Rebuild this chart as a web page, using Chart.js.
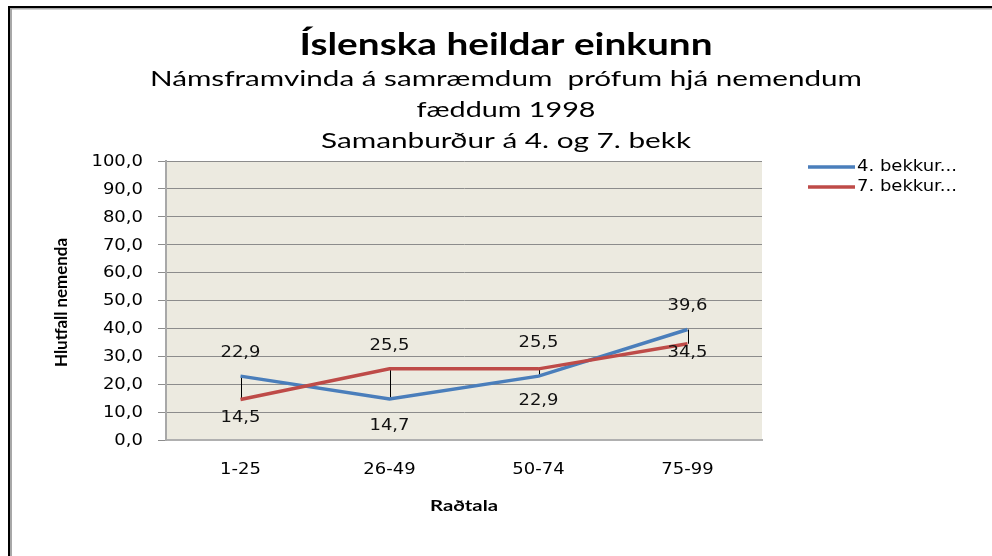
<!DOCTYPE html>
<html><head><meta charset="utf-8">
<script src="https://cdn.jsdelivr.net/npm/chart.js@4"></script>
<style>html,body{margin:0;padding:0;background:#fff;overflow:hidden}canvas{display:block}</style>
</head><body>
<canvas id="c" width="992" height="556"></canvas>
<script>
const categories = ['1-25', '26-49', '50-74', '75-99'];
const grade4 = [22.9, 14.7, 22.9, 39.6];
const grade7 = [14.5, 25.5, 25.5, 34.5];
const seriesNames = ['4. bekkur...', '7. bekkur...'];
const titleText = 'Íslenska heildar einkunn';
const subtitleLines = ['Námsframvinda á samræmdum  prófum hjá nemendum', 'fæddum 1998', 'Samanburður á 4. og 7. bekk'];
const xAxisTitle = 'Raðtala';
const yAxisTitle = 'Hlutfall nemenda';

const fmt = v => v.toFixed(1).replace('.', ',');
const VFONT = '15px "DejaVu Sans"';
const SX = 1.2;

function txt(ctx, s, x, y, o) {
  ctx.save();
  ctx.font = o.font;
  ctx.fillStyle = o.color || '#000';
  ctx.textAlign = o.align || 'center';
  ctx.textBaseline = o.baseline || 'middle';
  ctx.translate(x, y);
  if (o.rot) ctx.rotate(o.rot);
  let sx = o.sx || 1;
  if (o.width) sx = o.width / ctx.measureText(s).width;
  ctx.scale(sx, o.sy || 1);
  ctx.fillText(s, 0, 0);
  ctx.restore();
}

const deco = {
  id: 'deco',
  beforeDraw(chart) {
    const { ctx, chartArea: a } = chart;
    ctx.save();
    ctx.fillStyle = '#fff';
    ctx.fillRect(0, 0, chart.width, chart.height);
    ctx.fillStyle = '#ECEAE0';
    ctx.fillRect(a.left, a.top, a.right - a.left, a.bottom - a.top);
    ctx.fillStyle = '#A8A8A8';
    ctx.fillRect(10, 8, 2, chart.height);
    ctx.fillRect(10, 8, chart.width, 1.5);
    ctx.fillStyle = '#000';
    ctx.fillRect(8, 6, chart.width, 2);
    ctx.fillRect(8, 6, 2, chart.height);
    ctx.restore();
  },
  beforeDatasetsDraw(chart) {
    const ctx = chart.ctx;
    const p0 = chart.getDatasetMeta(0).data, p1 = chart.getDatasetMeta(1).data;
    ctx.save();
    ctx.strokeStyle = '#000';
    ctx.lineWidth = 1;
    for (let i = 0; i < p0.length; i++) {
      const x = Math.round(p0[i].x) + 0.5;
      ctx.beginPath();
      ctx.moveTo(x, p0[i].y);
      ctx.lineTo(x, p1[i].y);
      ctx.stroke();
    }
    ctx.restore();
  },
  afterDraw(chart) {
    const ctx = chart.ctx;
    const a = chart.chartArea;
    const cx = 506;
    txt(ctx, titleText, cx, 55, { font: 'bold 30px Lato', baseline: 'alphabetic', width: 413 });
    const subW = [712, 179, 370];
    const subY = [86, 117, 148];
    subtitleLines.forEach((s, i) => txt(ctx, s, cx, subY[i], { font: '21px Lato', baseline: 'alphabetic', width: subW[i] }));
    const ys = chart.scales.y;
    ys.ticks.forEach(t => {
      txt(ctx, fmt(t.value), 143, ys.getPixelForValue(t.value) + 1, { font: VFONT, align: 'right', sx: SX });
    });
    const xs = chart.scales.x;
    categories.forEach((c, i) => txt(ctx, c, xs.getPixelForValue(i), 470, { font: VFONT, sx: SX }));
    txt(ctx, xAxisTitle, (a.left + a.right) / 2, 506, { font: 'bold 15px Lato', width: 68 });
    txt(ctx, yAxisTitle, 62, (a.top + a.bottom) / 2 + 2, { font: 'bold 14px Lato', rot: -Math.PI / 2, width: 129, sy: 1.2 });
    const offs = chart.options.plugins.deco.labelOffsets;
    chart.data.datasets.forEach((ds, di) => {
      const pts = chart.getDatasetMeta(di).data;
      ds.data.forEach((v, i) => {
        txt(ctx, fmt(v), pts[i].x, pts[i].y + offs[di][i], { font: VFONT, sx: SX, color: '#111' });
      });
    });
    const legY = [167, 187];
    chart.data.datasets.forEach((ds, di) => {
      ctx.save();
      ctx.strokeStyle = ds.borderColor;
      ctx.lineWidth = 3.5;
      ctx.beginPath();
      ctx.moveTo(808, legY[di]);
      ctx.lineTo(855, legY[di]);
      ctx.stroke();
      ctx.restore();
      txt(ctx, ds.label, 857, legY[di], { font: VFONT, align: 'left', sx: SX });
    });
  }
};

new Chart(document.getElementById('c'), {
  type: 'line',
  data: {
    labels: categories,
    datasets: [
      { label: seriesNames[0], data: grade4, borderColor: '#4A7EBB', borderWidth: 3.5, pointRadius: 0, tension: 0, fill: false, order: 1 },
      { label: seriesNames[1], data: grade7, borderColor: '#BE4B48', borderWidth: 3.5, pointRadius: 0, tension: 0, fill: false, order: 0 }
    ]
  },
  options: {
    responsive: false,
    animation: false,
    devicePixelRatio: 1,
    layout: { padding: { top: 161, right: 230, left: 0, bottom: 0 } },
    plugins: {
      legend: { display: false },
      title: { display: false },
      tooltip: { enabled: false },
      deco: { labelOffsets: [[-23, 27, 25, -23], [19, -23, -26, 9]] }
    },
    scales: {
      x: {
        offset: true,
        grid: { display: false },
        ticks: { display: false },
        border: { color: '#B0B0B0', width: 2 },
        afterFit(s) { s.height = 116; }
      },
      y: {
        min: 0, max: 100,
        ticks: { stepSize: 10, display: false },
        grid: { color: '#8C8C8C', lineWidth: 1, tickLength: 8 },
        border: { color: '#A8A8A8', width: 2 },
        afterFit(s) { s.width = 166; }
      }
    }
  },
  plugins: [deco]
});
</script>
</body></html>
